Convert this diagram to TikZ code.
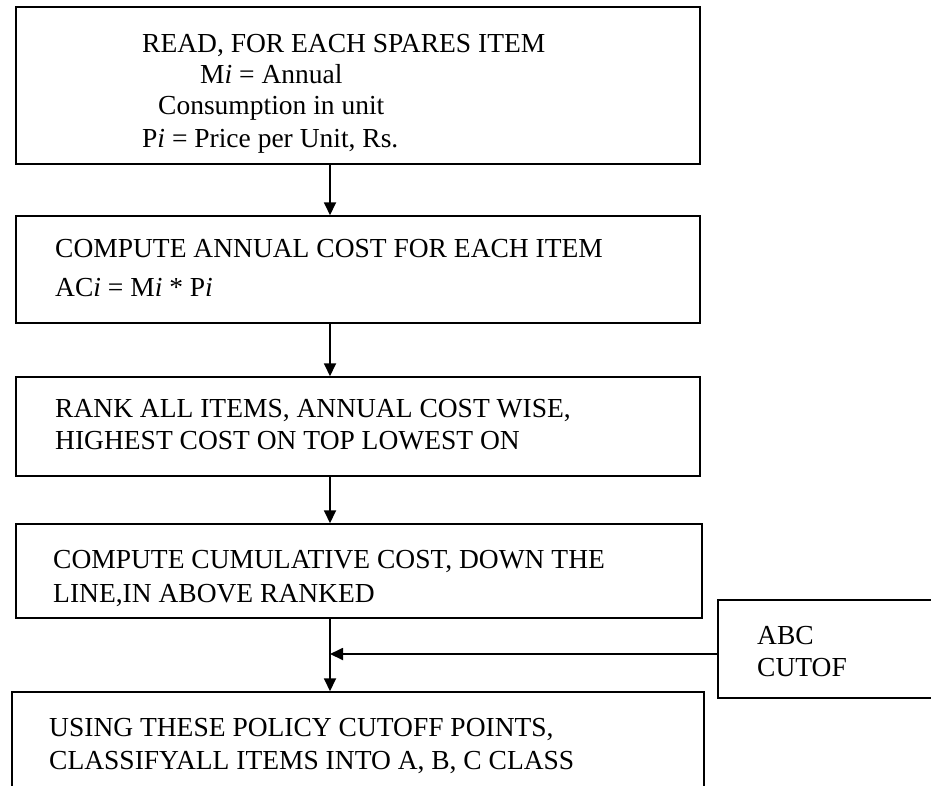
\documentclass[tikz,border=0pt]{standalone}
\usepackage{fontspec}
\setmainfont{Liberation Serif}
\usetikzlibrary{arrows.meta}
\begin{document}
\begin{tikzpicture}[x=1pt,y=-1pt,
  box/.style={draw, line width=1.5pt, inner sep=0pt},
  txt/.style={anchor=base west, inner sep=0pt, font=\fontsize{27.5}{33}\selectfont},
  arr/.style={line width=1.8pt, -{Triangle[length=13pt,width=12pt]}}]
\useasboundingbox (0,0) rectangle (931,785);
% boxes
\node[box, minimum width=684pt, minimum height=157pt] (b1) at (358,85.5) {};
\node[box, minimum width=684pt, minimum height=107pt] (b2) at (358,269.5) {};
\node[box, minimum width=684pt, minimum height=99pt] (b3) at (358,426.5) {};
\node[box, minimum width=686pt, minimum height=94pt] (b4) at (359,571) {};
\node[box, minimum width=692pt, minimum height=128pt] (b5) at (358,756) {};
\node[box, minimum width=242pt, minimum height=98pt] (abc) at (839,649) {};
% texts
\node[txt] (t1a) at (142,52) {READ, FOR EACH SPARES ITEM};
\node[txt] (t1b) at (200,83) {M\textit{i} = Annual};
\node[txt] (t1c) at (158,114) {Consumption in unit};
\node[txt] (t1d) at (142,147) {P\textit{i} = Price per Unit, Rs.};
\node[txt] (t2a) at (55,257) {COMPUTE ANNUAL COST FOR EACH ITEM};
\node[txt] (t2b) at (55,296) {AC\textit{i} = M\textit{i} * P\textit{i}};
\node[txt] (t3a) at (55,417) {RANK ALL ITEMS, ANNUAL COST WISE,};
\node[txt] (t3b) at (55,449) {HIGHEST COST ON TOP LOWEST ON};
\node[txt] (t4a) at (53,568) {COMPUTE CUMULATIVE COST, DOWN THE};
\node[txt] (t4b) at (53,602) {LINE,IN ABOVE RANKED};
\node[txt] (t5a) at (49,736) {USING THESE POLICY CUTOFF POINTS,};
\node[txt] (t5b) at (49,769) {CLASSIFYALL ITEMS INTO A, B, C CLASS};
\node[txt] (tabca) at (757,644) {ABC};
\node[txt] (tabcb) at (757,676) {CUTOF};
% connectors
\coordinate (ax) at (330,0);
\draw[arr] (b1.south -| ax) -- (b2.north -| ax);
\draw[arr] (b2.south -| ax) -- (b3.north -| ax);
\draw[arr] (b3.south -| ax) -- (b4.north -| ax);
\draw[arr] (b4.south -| ax) -- (b5.north -| ax);
\coordinate (jn) at ([yshift=-5pt]abc.west);
\draw[arr] (jn) -- (jn -| ax);
\end{tikzpicture}
\end{document}
